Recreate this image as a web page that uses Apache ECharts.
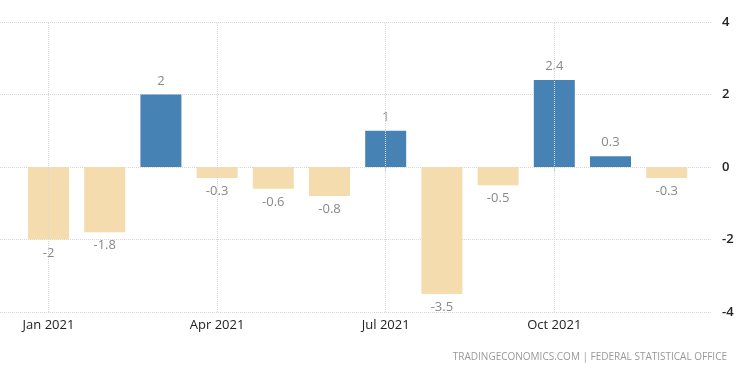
<!DOCTYPE html>
<html>
<head>
<meta charset="utf-8">
<script src="https://cdn.jsdelivr.net/npm/echarts@6/dist/echarts.min.js"></script>
<style>
  html, body { margin: 0; padding: 0; background: #fff; }
  #chart { width: 750px; height: 375px; }
</style>
</head>
<body>
<div id="chart"></div>
<script>
// monthly change, 2021
var months = ["Jan 2021", "Feb 2021", "Mar 2021", "Apr 2021", "May 2021", "Jun 2021",
              "Jul 2021", "Aug 2021", "Sep 2021", "Oct 2021", "Nov 2021", "Dec 2021"];
var values = [-2, -1.8, 2, -0.3, -0.6, -0.8, 1, -3.5, -0.5, 2.4, 0.3, -0.3];
var labelMonths = [0, 3, 6, 9]; // Jan, Apr, Jul, Oct
var yTicks = [-4, -2, 0, 2, 4];

var myChart = echarts.init(document.getElementById("chart"));

var barData = values.map(function (v, i) {
	return {
		value: [i, v],
		itemStyle: { color: v >= 0 ? "#4682b4" : "#f4dcae" },
		label: { position: v >= 0 ? "top" : "bottom" }
	};
});

var option = {
	animation: false,
	textStyle: { fontFamily: "Open Sans" },
	grid: { left: 0, right: 38, top: 22, bottom: 63 },
	xAxis: {
		type: "value",
		min: -0.863,
		max: 11.806,
		axisLine: { show: false },
		axisTick: {
			show: true,
			customValues: labelMonths,
			length: 5,
			lineStyle: { color: "#ccc" }
		},
		axisLabel: {
			customValues: labelMonths,
			color: "#222",
			fontSize: 13,
			margin: 7,
			formatter: function (v) { return months[v]; }
		},
		splitLine: { show: false }
	},
	yAxis: {
		type: "value",
		position: "right",
		min: yTicks[0],
		max: yTicks[yTicks.length - 1],
		interval: 2,
		axisLine: { show: false },
		axisTick: { show: false },
		axisLabel: { color: "#222", fontSize: 13, fontWeight: 600, margin: 10 },
		splitLine: { lineStyle: { color: "#d8d8d8", type: "dotted" } }
	},
	graphic: [{
		type: "text",
		right: 23,
		top: 352,
		style: {
			text: "TRADINGECONOMICS.COM | FEDERAL STATISTICAL OFFICE",
			fill: "#999",
			font: "10px 'Open Sans'"
		}
	}],
	series: [{
		type: "bar",
		barWidth: 41,
		data: barData,
		label: {
			show: true,
			distance: 7,
			color: "#888",
			fontSize: 13,
			formatter: function (p) { return p.value[1]; }
		},
		markLine: {
			silent: true,
			symbol: "none",
			label: { show: false },
			lineStyle: { color: "#d8d8d8", type: "dotted", width: 1 },
			data: labelMonths.map(function (m) { return { xAxis: m }; })
		},
		z: 3
	}]
};
myChart.setOption(option);
</script>
</body>
</html>
